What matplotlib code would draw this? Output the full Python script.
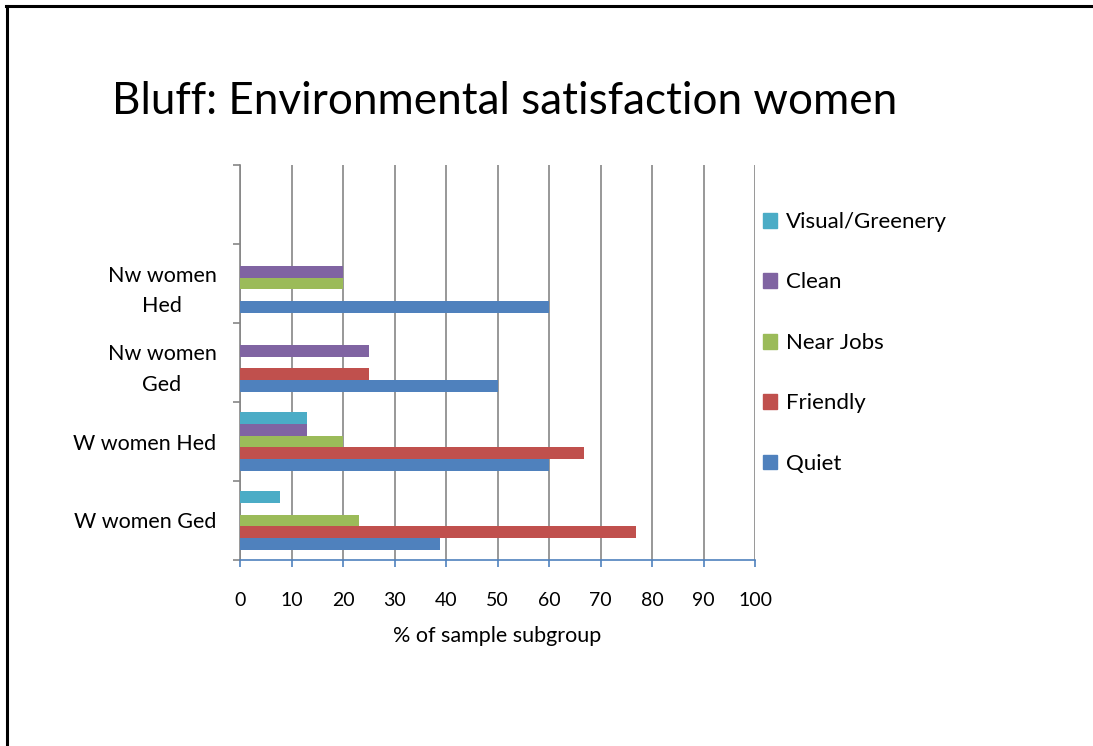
"""Bluff: environmental satisfaction of women, grouped horizontal bars."""
import numpy as np
import matplotlib
matplotlib.use("Agg")
import matplotlib.pyplot as plt
from matplotlib.lines import Line2D
from matplotlib.patches import Patch

plt.rcParams["font.family"] = ["Lato", "DejaVu Sans"]

# categories bottom to top; the top slot is empty in the original chart
categories = ["W women Ged", "W women Hed", "Nw women\nGed", "Nw women\nHed", ""]
series = ["Quiet", "Friendly", "Near Jobs", "Clean", "Visual/Greenery"]
quiet = [38.8, 60, 50, 60, 0]
friendly = [76.9, 66.7, 25, 0, 0]
near_jobs = [23.1, 20, 0, 20, 0]
clean = [0, 13, 25, 20, 0]
visual = [7.7, 13, 0, 0, 0]
colors = ["#4F81BD", "#C0504D", "#9BBB59", "#8064A2", "#4BACC6"]
xticks = [0, 10, 20, 30, 40, 50, 60, 70, 80, 90, 100]

W, H = 1093, 746
fig = plt.figure(figsize=(W / 100, H / 100), dpi=100)
ax = fig.add_axes([240 / W, 1 - 560 / H, 515 / W, 395 / H])

y = np.arange(len(categories))
bh = 0.148
values = [quiet, friendly, near_jobs, clean, visual]
for i, (name, vals, c) in enumerate(zip(series, values, colors)):
    ax.barh(y + (i - 2) * bh, vals, height=bh, color=c, label=name, zorder=3)

ax.set_xlim(0, 100)
ax.set_ylim(-0.5, len(categories) - 0.5)
ax.set_xticks(xticks)
ax.grid(axis="x", color="#868686", linewidth=1.2, zorder=0)

# y: labels at centres, tick marks on category boundaries
ax.set_yticks(y)
ax.set_yticklabels(categories, fontsize=15.5, multialignment="center", linespacing=1.65)
ax.set_yticks(np.arange(-0.5, len(categories)), minor=True)
ax.tick_params(axis="y", which="major", length=0, pad=17)
ax.tick_params(axis="y", which="minor", length=5, color="#868686", width=1.2, direction="out")
ax.tick_params(axis="x", length=5, color="#4F81BD", width=1.2, direction="out",
               labelsize=14, pad=18)

for s in ["top", "right"]:
    ax.spines[s].set_visible(False)
ax.spines["left"].set_color("#868686")
ax.spines["left"].set_linewidth(1.2)
ax.spines["bottom"].set_color("#4F81BD")
ax.spines["bottom"].set_linewidth(1.2)
ax.spines["bottom"].set_zorder(4)

ax.set_xlabel("% of sample subgroup", fontsize=15.5, labelpad=12)

fig.text(112 / W, 1 - 102 / H, "Bluff: Environmental satisfaction women",
         fontsize=31.7, ha="left", va="center")

handles = [Patch(color=c, label=n) for n, c in zip(series, colors)][::-1]
fig.legend(handles=handles, loc="upper left", bbox_to_anchor=(743 / W, 1 - 192 / H),
           frameon=False, fontsize=16, handlelength=0.65, handleheight=0.65,
           handletextpad=0.4, labelspacing=1.82)

# frame lines of the original slide
fig.add_artist(Line2D([6 / W, 1], [1 - 5.5 / H, 1 - 5.5 / H], color="black", linewidth=2.2))
fig.add_artist(Line2D([6.5 / W, 6.5 / W], [0, 1 - 5.5 / H], color="black", linewidth=2.2))

fig.savefig("out.png", dpi=100)
